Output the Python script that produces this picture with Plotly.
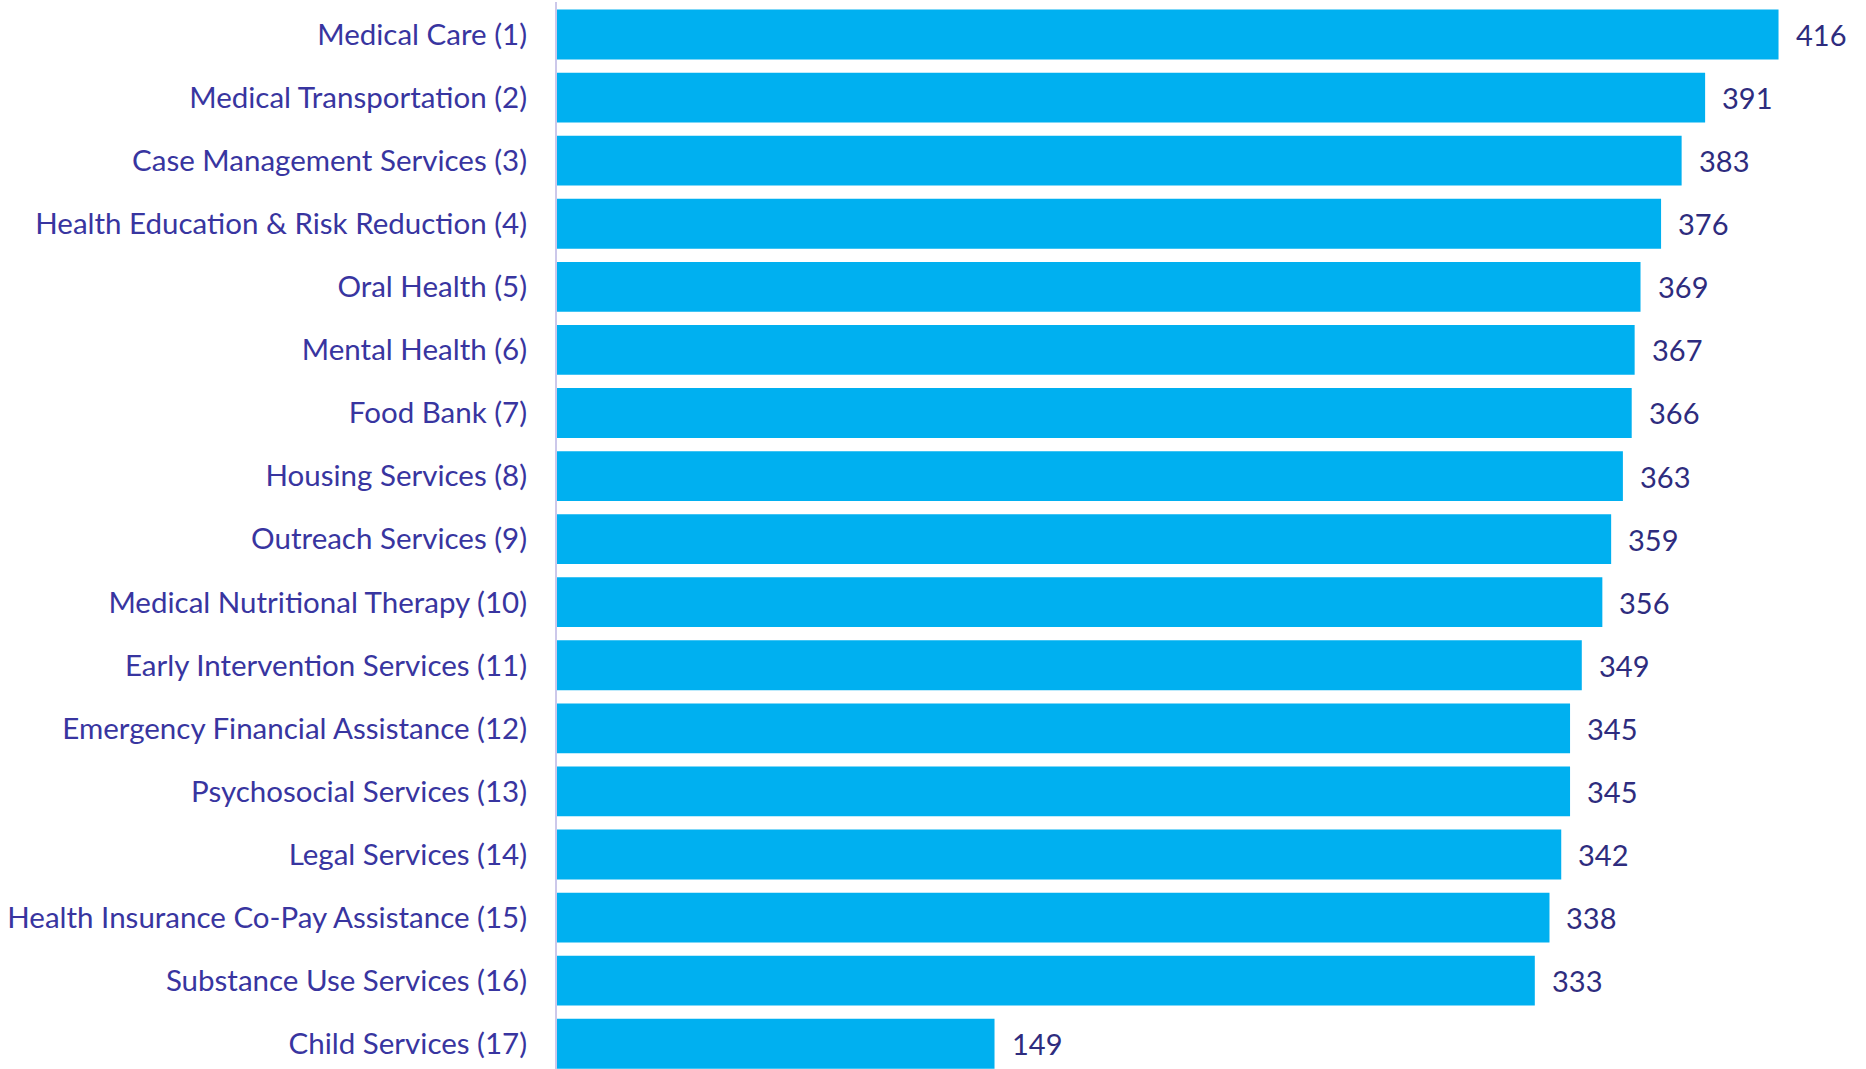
import plotly.graph_objects as go

# Services ranked by number of responses
services = [
    "Medical Care (1)",
    "Medical Transportation (2)",
    "Case Management Services (3)",
    "Health Education & Risk Reduction (4)",
    "Oral Health (5)",
    "Mental Health (6)",
    "Food Bank (7)",
    "Housing Services (8)",
    "Outreach Services (9)",
    "Medical Nutritional Therapy (10)",
    "Early Intervention Services (11)",
    "Emergency Financial Assistance (12)",
    "Psychosocial Services (13)",
    "Legal Services (14)",
    "Health Insurance Co-Pay Assistance (15)",
    "Substance Use Services (16)",
    "Child Services (17)",
]
counts = [416, 391, 383, 376, 369, 367, 366, 363, 359, 356, 349, 345, 345, 342, 338, 333, 149]

BAR_COLOR = "#00B0F0"
LABEL_COLOR = "#3835A0"
VALUE_COLOR = "#2E2C7E"
FONT = "Lato"

fig = go.Figure(
    go.Bar(
        x=counts,
        y=services,
        orientation="h",
        marker=dict(color=BAR_COLOR, line=dict(width=0)),
        hoverinfo="x+y",
    )
)

# Value labels to the right of each bar
for name, val in zip(services, counts):
    fig.add_annotation(
        x=val, y=name, text=str(val), showarrow=False,
        xanchor="left", yanchor="middle", xshift=15,
        font=dict(family=FONT, size=29, color=VALUE_COLOR),
    )

fig.update_layout(
    width=1866, height=1069,
    margin=dict(l=557, r=17, t=2, b=0),
    paper_bgcolor="white", plot_bgcolor="white",
    bargap=0.21,
    showlegend=False,
    font=dict(family=FONT, size=29.5, color=LABEL_COLOR),
)
fig.update_xaxes(
    range=[0, 440], visible=False, showgrid=False, zeroline=False,
)
fig.update_yaxes(
    type="category",
    categoryorder="array", categoryarray=services,
    range=[16.40, -0.515], autorange=False,
    showgrid=False, zeroline=False,
    showline=True, linecolor="#CCC8EA", linewidth=2,
    ticks="outside", ticklen=22, tickcolor="rgba(0,0,0,0)",
    tickfont=dict(family=FONT, size=29.5, color=LABEL_COLOR),
)

fig.write_html("out.html")
